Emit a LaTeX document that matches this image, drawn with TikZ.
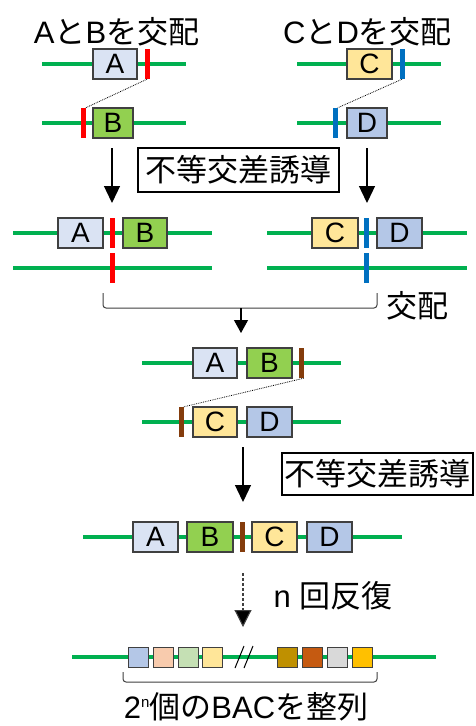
\documentclass[tikz,border=0pt]{standalone}
\usepackage{fontspec}
\setmainfont{Liberation Sans}
\newfontfamily\jp{Noto Sans CJK JP}
\usetikzlibrary{arrows.meta}
\definecolor{dnagreen}{HTML}{00B050}
\definecolor{edgegray}{HTML}{404040}
\definecolor{cA}{HTML}{DAE3F3}
\definecolor{cB}{HTML}{92D050}
\definecolor{cC}{HTML}{FFE699}
\definecolor{cD}{HTML}{B4C7E7}
\definecolor{cRed}{HTML}{FF0000}
\definecolor{cBlue}{HTML}{0070C0}
\definecolor{cBrown}{HTML}{843C0C}
\definecolor{s2}{HTML}{F8CBAD}
\definecolor{s3}{HTML}{C5E0B4}
\definecolor{s5}{HTML}{BF9000}
\definecolor{s6}{HTML}{C55A11}
\definecolor{s7}{HTML}{D9D9D9}
\definecolor{s8}{HTML}{FFC000}
\tikzset{
  dna/.style={draw=dnagreen, line width=4.5pt},
  gene/.style={rectangle, draw=edgegray, line width=1.1pt, minimum height=30pt, inner sep=0pt, fill=#1, font=\fontsize{28}{28}\selectfont},
  cutbar/.style={rectangle, fill=#1, draw=none, minimum width=5pt, minimum height=30pt, inner sep=0pt},
  small/.style={rectangle, draw=edgegray, line width=1pt, minimum size=20pt, inner sep=0pt, fill=#1},
  big/.style={-{Triangle[width=16pt,length=17pt]}, line width=1.3pt, draw=black},
  smallhead/.style={-{Triangle[width=14pt,length=13pt]}, line width=1.1pt, draw=black},
  bracket/.style={draw=edgegray, line width=1pt, rounded corners=3pt},
  lbl/.style={font=\fontsize{31}{31}\selectfont, inner sep=0pt},
  labelbox/.style={draw=black, line width=1.1pt, font=\fontsize{31}{31}\selectfont\jp, inner sep=0pt},
  cross/.style={densely dotted, line width=0.8pt, draw=black}
}
\begin{document}
\begin{tikzpicture}[x=1pt,y=-1pt]
\clip (0,0) rectangle (476,726);
\fill[white] (0,0) rectangle (476,726);

% titles
\node[lbl, anchor=base] (t1) at (116.5,43.5) {A{\jp と}B{\jp を交配}};
\node[lbl, anchor=base] (t2) at (367.5,43.5) {C{\jp と}D{\jp を交配}};

% row 1 and 2, left
\draw[dna] (42,64) -- (186,64);
\draw[dna] (42,123) -- (186,123);
\node[gene=cA, minimum width=44pt] (a1) at (115,64) {A};
\node[cutbar=cRed] (r1) at (147,64) {};
\node[cutbar=cRed] (r2) at (83,123) {};
\node[gene=cB, minimum width=40pt] (b1) at (113,123) {B};
\draw[cross] (r1.south) -- (r2.north east);

% row 1 and 2, right
\draw[dna] (297,64) -- (441,64);
\draw[dna] (297,123) -- (441,123);
\node[gene=cC, minimum width=45pt] (c1) at (369.5,64) {C};
\node[cutbar=cBlue] (u1) at (402,64) {};
\node[cutbar=cBlue] (u2) at (335,123) {};
\node[gene=cD, minimum width=40pt] (d1) at (367,123) {D};
\draw[cross] (u1.south) -- (u2.north east);

% arrows and label box 1
\coordinate (p1s) at (112,148);
\coordinate (p1e) at (112,203);
\coordinate (p2s) at (367,148);
\coordinate (p2e) at (367,203);
\draw[big] (p1s) -- (p1e);
\draw[big] (p2s) -- (p2e);
\node[labelbox, minimum width=201pt, minimum height=44pt] (lb1) at (238.5,170) {不等交差誘導};

% rows 3 and 4, left
\draw[dna] (13,233) -- (212,233);
\draw[dna] (13,268) -- (212,268);
\node[gene=cA, minimum width=45pt] (a2) at (80.5,233) {A};
\node[cutbar=cRed] (r3) at (112,233) {};
\node[gene=cB, minimum width=44pt] (b2) at (145,233) {B};
\node[cutbar=cRed] (r4) at (112,268) {};

% rows 3 and 4, right
\draw[dna] (267,233) -- (467,233);
\draw[dna] (267,268) -- (467,268);
\node[gene=cC, minimum width=46pt] (c2) at (335,233) {C};
\node[cutbar=cBlue] (u3) at (366,233) {};
\node[gene=cD, minimum width=45pt] (d2) at (399.5,233) {D};
\node[cutbar=cBlue] (u4) at (366,268) {};

% bracket
\draw[bracket] (103,293) -- (103,308) -- (377,308) -- (377,293);
\coordinate (m1s) at (241,308);
\coordinate (m1e) at (241,333);
\draw[smallhead] (m1s) -- (m1e);
\node[lbl, anchor=center] (kh) at (417,306) {\jp 交配};

% rows 5 and 6
\draw[dna] (142,363) -- (341,363);
\draw[dna] (142,422) -- (341,422);
\node[gene=cA, minimum width=44pt] (a3) at (215,363) {A};
\node[gene=cB, minimum width=45pt] (b3) at (269.5,363) {B};
\node[cutbar=cBrown] (w1) at (301,363) {};
\node[cutbar=cBrown] (w2) at (181,422) {};
\node[gene=cC, minimum width=44pt] (c3) at (215,422) {C};
\node[gene=cD, minimum width=45pt] (d3) at (269.5,422) {D};
\draw[cross] (w1.south east) -- (w2.north east);

\coordinate (q1s) at (243,447);
\coordinate (q1e) at (243,502);
\draw[big] (q1s) -- (q1e);
\node[labelbox, minimum width=191pt, minimum height=42pt] (lb2) at (377.5,474) {不等交差誘導};

% row 7
\draw[dna] (83,537) -- (402,537);
\node[gene=cA, minimum width=45pt] (a4) at (155.5,537) {A};
\node[gene=cB, minimum width=46pt] (b4) at (210,537) {B};
\node[cutbar=cBrown] (w3) at (242,537) {};
\node[gene=cC, minimum width=45pt] (c4) at (274.5,537) {C};
\node[gene=cD, minimum width=45pt] (d4) at (329.5,537) {D};

% repeat arrow
\coordinate (n1s) at (243,573);
\coordinate (n1e) at (243,627);
\draw[big, draw=edgegray, dash pattern=on 3pt off 2pt, line width=1.1pt, -{Triangle[width=17pt,length=17pt,fill=black]}] (n1s) -- (n1e);
\node[lbl, anchor=center] (nr) at (333,596) {n {\jp 回反復}};

% row 8
\draw[dna] (72,657) -- (436,657);
\node[small=cD] (s1) at (138,657) {};
\node[small=s2] (s2n) at (163,657) {};
\node[small=s3] (s3n) at (188,657) {};
\node[small=cC] (s4n) at (212.5,657) {};
\draw[line width=1pt] (235,668) -- (244,646);
\draw[line width=1pt] (244,668) -- (253,646);
\node[small=s5] (s5n) at (287,657) {};
\node[small=s6] (s6n) at (312,657) {};
\node[small=s7] (s7n) at (337,657) {};
\node[small=s8] (s8n) at (362,657) {};

\draw[bracket] (123,672) -- (123,682) -- (377,682) -- (377,672);
\node[lbl, anchor=base] (bt) at (246,718) {2\raisebox{0.35em}{\fontsize{15}{15}\selectfont n}{\jp 個の}BAC{\jp を整列}};
\end{tikzpicture}
\end{document}
